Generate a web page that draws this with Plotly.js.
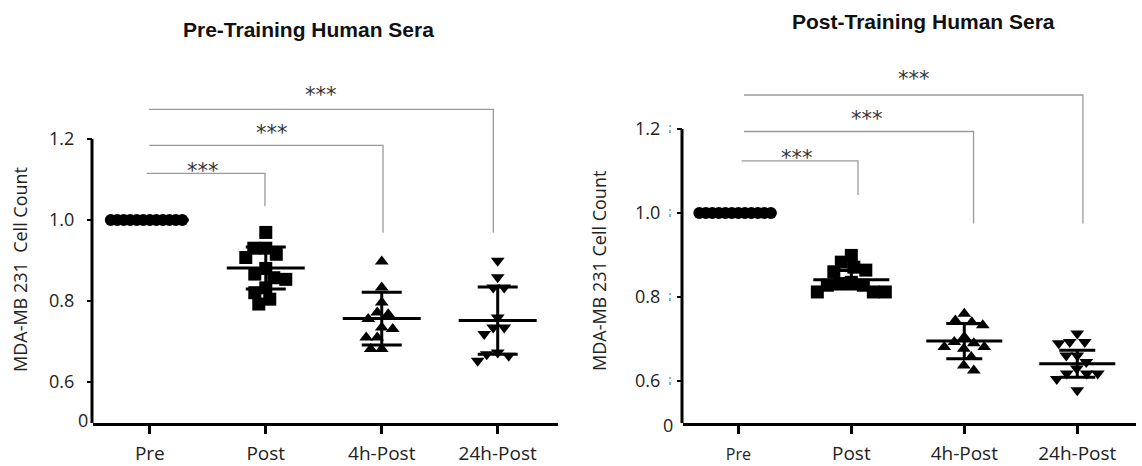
<!DOCTYPE html>
<html><head><meta charset="utf-8">
<script src="https://cdn.plot.ly/plotly-3.0.1.min.js"></script>
<style>html,body{margin:0;padding:0;background:#fff;}#chart{width:1142px;height:466px;}</style>
</head><body><div id="chart"></div>
<script>
// ---------------- data ----------------
const categories = ["Pre", "Post", "4h-Post", "24h-Post"];
const yTickValues = [0.6, 0.8, 1.0, 1.2];
const yTickLabels = ["0.6", "0.8", "1.0", "1.2"];
const axisBreakLabel = "0";
const panelTitles = ["Pre-Training Human Sera", "Post-Training Human Sera"];
const yAxisTitles = ["MDA-MB 231&nbsp; Cell Count", "MDA-MB 231 Cell Count"];
const comparisons = [[0, 1], [0, 2], [0, 3]];
const significance = ["***", "***", "***"];

// Pre-training sera
const preTrainPre  = [1, 1, 1, 1, 1, 1, 1, 1, 1, 1, 1, 1];
const preTrainPost = [0.969, 0.930, 0.930, 0.915, 0.907, 0.880, 0.866, 0.857, 0.853, 0.832, 0.820, 0.804, 0.792];
const preTrain4h   = [0.897, 0.833, 0.796, 0.771, 0.767, 0.755, 0.734, 0.730, 0.709, 0.709, 0.681, 0.681];
const preTrain24h  = [0.899, 0.858, 0.833, 0.833, 0.759, 0.734, 0.734, 0.718, 0.672, 0.668, 0.664, 0.652];
const preTrainMeans = [1.0, 0.881, 0.756, 0.751];
const preTrainSDs   = [0, 0.052, 0.065, 0.083];

// Post-training sera
const postTrainPre  = [1, 1, 1, 1, 1, 1, 1, 1, 1, 1, 1, 1];
const postTrainPost = [0.899, 0.883, 0.871, 0.864, 0.860, 0.835, 0.832, 0.828, 0.828, 0.812, 0.812, 0.812];
const postTrain4h   = [0.760, 0.744, 0.740, 0.733, 0.705, 0.693, 0.690, 0.681, 0.681, 0.677, 0.657, 0.637, 0.625];
const postTrain24h  = [0.713, 0.693, 0.693, 0.690, 0.661, 0.661, 0.645, 0.630, 0.618, 0.618, 0.618, 0.605, 0.578];
const postTrainMeans = [1.0, 0.841, 0.695, 0.641];
const postTrainSDs   = [0, 0.022, 0.042, 0.032];

// ---------------- layout geometry ----------------
const W = 1142, H = 466;
const fx = px => px / W;
const fy = py => (H - py) / H;
const symbols = ["circle", "square", "triangle-up", "triangle-down"];
const markerSizes = [12, 13, 12, 12];
const swarmDiam = [6.5, 12, 11, 11];

const panels = [
  { groups: [preTrainPre, preTrainPost, preTrain4h, preTrain24h], means: preTrainMeans, sds: preTrainSDs,
    xl: 93, xr: 558, px06: 381.7, px12: 139, bottom: 423, top: 74, xr0: -0.49, xr1: 3.52,
    cap: 20, meanHalf: 39, titleX: 308, titleY: 29, yTitleX: 20, yTitleY: 270, zeroX: 83, zeroY: 420,
    yStandoff: 9,
    brackets: [ {h: 1.115, a: -0.027, b: 0.993, d: 1.034},
                {h: 1.184, a: -0.004, b: 2.011, d: 0.968},
                {h: 1.273, a: -0.007, b: 2.962, d: 0.968} ],
    stars: [ {x: 0.456, y: 1.120}, {x: 1.054, y: 1.215}, {x: 1.476, y: 1.310} ],
    smallPre: false, blue: false },
  { groups: [postTrainPre, postTrainPost, postTrain4h, postTrain24h], means: postTrainMeans, sds: postTrainSDs,
    xl: 683, xr: 1136, px06: 381, px12: 129, bottom: 423.3, top: 57, xr0: -0.49, xr1: 3.52,
    cap: 18, meanHalf: 38, titleX: 923, titleY: 22, yTitleX: 599, yTitleY: 271, zeroX: 668, zeroY: 425,
    yStandoff: 13,
    brackets: [ {h: 1.124, a: 0.029, b: 1.059, d: 1.043},
                {h: 1.194, a: 0.050, b: 2.082, d: 0.975},
                {h: 1.281, a: 0.050, b: 3.050, d: 0.975} ],
    stars: [ {x: 0.519, y: 1.131}, {x: 1.136, y: 1.225}, {x: 1.554, y: 1.318} ],
    smallPre: true, blue: true }
];

function swarm(vals, pxX, pxY, diam) {
  const idx = vals.map((v, i) => i).sort((a, b) => vals[b] - vals[a]);
  const placed = [], off = new Array(vals.length);
  for (const i of idx) {
    const y = vals[i] * pxY;
    let best = 0;
    for (let s = 0; s < 800; s++) {
      const c = s === 0 ? 0 : (s % 2 ? -Math.ceil(s / 2) : Math.ceil(s / 2)) * 0.5;
      if (placed.every(q => Math.hypot(q.x - c, q.y - y) >= diam)) { best = c; break; }
    }
    placed.push({x: best, y: y});
    off[i] = best / pxX;
  }
  return off;
}

const traces = [], shapes = [], annotations = [];
const layout = {
  width: W, height: H, margin: {l: 0, r: 0, t: 0, b: 0},
  paper_bgcolor: "#fff", plot_bgcolor: "#fff", showlegend: false,
  font: {family: "Open Sans, DejaVu Sans, sans-serif", color: "#222"}
};

panels.forEach((p, k) => {
  const xn = k === 0 ? "x" : "x2", yn = k === 0 ? "y" : "y2";
  const xKey = k === 0 ? "xaxis" : "xaxis2", yKey = k === 0 ? "yaxis" : "yaxis2";
  const pxY = (p.px06 - p.px12) / 0.6;
  const yLow = 0.6 - (p.bottom - p.px06) / pxY;
  const yHigh = 1.2 + (p.px12 - p.top) / pxY;
  const pxX = (p.xr - p.xl) / (p.xr1 - p.xr0);

  layout[xKey] = {
    domain: [fx(p.xl), fx(p.xr)], range: [p.xr0, p.xr1], anchor: yn,
    tickvals: categories.map((c, i) => i),
    ticktext: categories.map((c, i) => (p.smallPre && i === 0) ? '<span style="font-size:16px">' + c + '</span>' : c),
    ticks: "outside", ticklen: 8, tickwidth: 3, tickcolor: "#000",
    showline: true, linewidth: 3, linecolor: "#000", showgrid: false, zeroline: false,
    tickfont: {size: 19, family: "Open Sans, sans-serif", color: "#222"}, ticklabelstandoff: 3, fixedrange: true
  };
  layout[yKey] = {
    domain: [fy(p.bottom), fy(p.top)], range: [yLow, yHigh], anchor: xn,
    tickvals: yTickValues, ticktext: yTickLabels,
    ticks: "outside", ticklen: 5, tickwidth: 2, tickcolor: "#000",
    showline: false, showgrid: false, zeroline: false,
    tickfont: {size: 18, family: "Open Sans, sans-serif", color: "#222"}, ticklabelstandoff: p.yStandoff, fixedrange: true
  };

  // y axis line (stops at 1.2)
  shapes.push({type: "line", xref: "paper", yref: yn, x0: fx(p.xl - 1), x1: fx(p.xl - 1), y0: yLow, y1: 1.2,
    line: {color: "#000", width: 3}});

  // points
  p.groups.forEach((vals, g) => {
    const off = swarm(vals, pxX, pxY, swarmDiam[g]);
    traces.push({
      type: "scatter", mode: "markers", xaxis: xn, yaxis: yn,
      x: vals.map((v, i) => g + off[i]), y: vals,
      marker: {symbol: symbols[g], size: markerSizes[g], color: "#000", line: {width: 0}},
      hoverinfo: "y", cliponaxis: false
    });
  });
  // mean +/- SD
  traces.push({
    type: "scatter", mode: "markers", xaxis: xn, yaxis: yn,
    x: categories.map((c, i) => i), y: p.means,
    marker: {size: 1, color: "rgba(0,0,0,0)"},
    error_y: {type: "data", array: p.sds, visible: true, width: p.cap, thickness: 3, color: "#000"},
    error_x: {type: "data", array: p.means.map(() => p.meanHalf / pxX), visible: true, width: 0, thickness: 3, color: "#000"},
    hoverinfo: "skip"
  });

  // significance brackets
  comparisons.forEach((cmp, j) => {
    const b = p.brackets[j];
    shapes.push({type: "path", xref: xn, yref: yn,
      path: "M" + (cmp[0] + b.a) + "," + b.h + " L" + b.b + "," + b.h + " L" + b.b + "," + b.d,
      line: {color: "#9a9a9a", width: 1.3}});
    annotations.push({xref: xn, yref: yn, x: p.stars[j].x, y: p.stars[j].y, text: significance[j],
      showarrow: false, xanchor: "center", yanchor: "middle",
      font: {family: "DejaVu Sans, sans-serif", size: 21, color: "#333"}});
  });

  // broken-axis "0" label
  annotations.push({xref: "paper", yref: "paper", x: fx(p.zeroX), y: fy(p.zeroY), text: axisBreakLabel,
    showarrow: false, xanchor: "center", yanchor: "middle", font: {size: 18, color: "#222"}});
  // y-axis title
  annotations.push({xref: "paper", yref: "paper", x: fx(p.yTitleX), y: fy(p.yTitleY), text: yAxisTitles[k],
    textangle: -90, showarrow: false, xanchor: "center", yanchor: "middle", font: {size: 18, color: "#222"}});
  // panel title
  annotations.push({xref: "paper", yref: "paper", x: fx(p.titleX), y: fy(p.titleY), text: "<b>" + panelTitles[k] + "</b>",
    showarrow: false, xanchor: "center", yanchor: "middle",
    font: {family: "Liberation Sans, Arial, sans-serif", size: 21, color: "#111"}});

  if (p.blue) {
    yTickValues.forEach(v => {
      shapes.push({type: "line", xref: "paper", yref: yn, x0: fx(670), x1: fx(670),
        y0: v - 4 / pxY, y1: v + 4 / pxY, line: {color: "#4a9fe0", width: 1.5, dash: "dot"}});
    });
  }
});

layout.shapes = shapes;
layout.annotations = annotations;
Plotly.newPlot("chart", traces, layout, {displayModeBar: false, staticPlot: true});
</script></body></html>
